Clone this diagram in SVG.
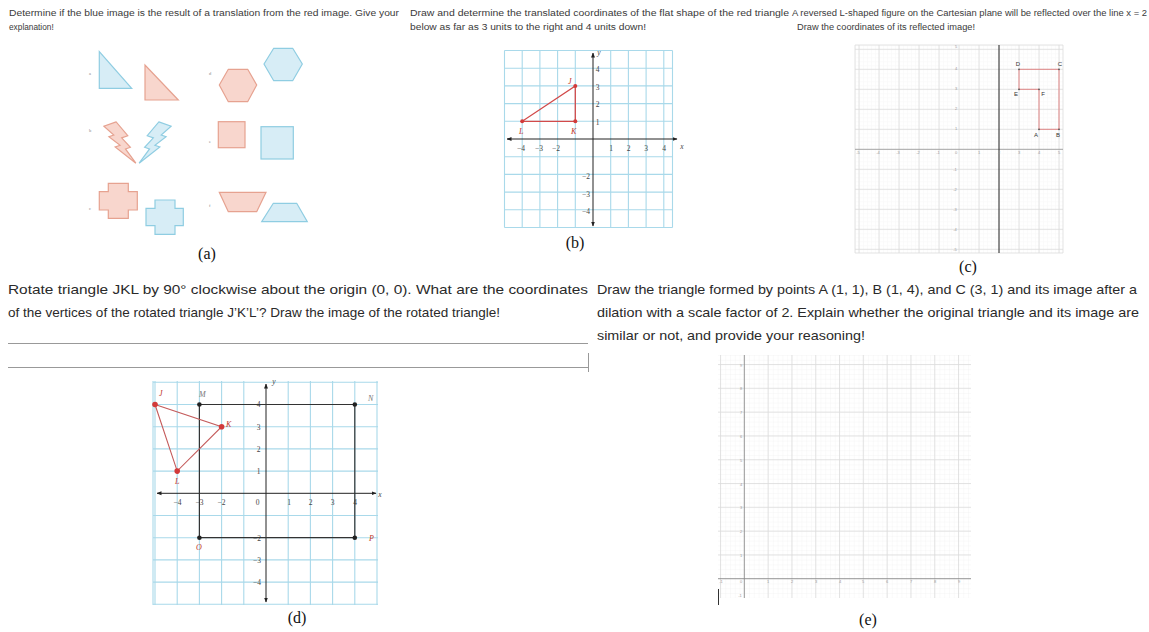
<svg xmlns="http://www.w3.org/2000/svg" width="1149" height="632" viewBox="0 0 1149 632">
<style>
.q{font-family:"Liberation Sans",Arial,sans-serif;font-size:8.3px;fill:#3a3a3a}
.qm{font-family:"Liberation Sans",Arial,sans-serif;font-size:12.4px;fill:#2a2a2a}
.cap{font-family:"Liberation Serif","Times New Roman",serif;font-size:16px;fill:#111;text-anchor:middle}
.rd{fill:#f8d6cd;stroke:#e6a290;stroke-width:1.2}
.bl{fill:#d7edf6;stroke:#8fcde2;stroke-width:1.2}
.sl{font-family:"Liberation Serif",serif;font-size:4.5px;fill:#888}
.bg{stroke:#a9d9ea;stroke-width:1.1;fill:none}
.ax{stroke:#222;stroke-width:1;fill:none}
.tk{font-family:"Liberation Serif",serif;font-size:7.5px;fill:#444;text-anchor:middle}
.pl{font-family:"Liberation Serif",serif;font-size:8px;font-style:italic;fill:#c0392b}
.gm{stroke:#dcdcdc;stroke-width:0.8;fill:none}
.tiny{font-family:"Liberation Sans",sans-serif;font-size:4px;fill:#9a9a9a;text-anchor:middle}
.lbl{font-family:"Liberation Sans",sans-serif;font-size:6px;fill:#333;text-anchor:middle}
</style>
<defs>
<marker id="ar" viewBox="0 0 10 10" refX="9" refY="5" markerWidth="5" markerHeight="5" orient="auto-start-reverse"><path d="M0 1L10 5L0 9z" fill="#222"/></marker>
<pattern id="mc" width="4" height="4" patternUnits="userSpaceOnUse" x="959" y="149.3"><path d="M0 0H4M0 0V4" stroke="#f1f1f1" stroke-width="0.6" fill="none"/></pattern>
<pattern id="me" width="4.76" height="4.76" patternUnits="userSpaceOnUse" x="744.3" y="578.7"><path d="M0 0H4.76M0 0V4.76" stroke="#efefef" stroke-width="0.6" fill="none"/></pattern>
<polygon id="bolt" points="10,0 -10,0 0,18 -8,18 4,36 -4,36 18,70 10,44 18,44 10,26 20,26"/>
</defs>
<rect width="1149" height="632" fill="#fff"/>

<g id="questions">
<text class="q" x="9" y="16" textLength="390" lengthAdjust="spacingAndGlyphs">Determine if the blue image is the result of a translation from the red image. Give your</text>
<text class="q" x="9" y="30">explanation!</text>
<text class="q" x="410" y="16" textLength="379" lengthAdjust="spacingAndGlyphs">Draw and determine the translated coordinates of the flat shape of the red triangle</text>
<text class="q" x="410" y="30" textLength="236" lengthAdjust="spacingAndGlyphs">below as far as 3 units to the right and 4 units down!</text>
<text class="q" x="792" y="16" textLength="355" lengthAdjust="spacingAndGlyphs">A reversed L-shaped figure on the Cartesian plane will be reflected over the line x = 2</text>
<text class="q" x="797" y="30" textLength="178" lengthAdjust="spacingAndGlyphs">Draw the coordinates of its reflected image!</text>
<text class="qm" x="8" y="294" textLength="580" lengthAdjust="spacingAndGlyphs">Rotate triangle JKL by 90° clockwise about the origin (0, 0). What are the coordinates</text>
<text class="qm" x="8" y="317" textLength="492" lengthAdjust="spacingAndGlyphs">of the vertices of the rotated triangle J’K’L’? Draw the image of the rotated triangle!</text>
<text class="qm" x="597" y="294" textLength="540" lengthAdjust="spacingAndGlyphs">Draw the triangle formed by points A (1, 1), B (1, 4), and C (3, 1) and its image after a</text>
<text class="qm" x="597" y="317" textLength="542" lengthAdjust="spacingAndGlyphs">dilation with a scale factor of 2. Explain whether the original triangle and its image are</text>
<text class="qm" x="597" y="340" textLength="268" lengthAdjust="spacingAndGlyphs">similar or not, and provide your reasoning!</text>
<path d="M8 343.5H588M8 367.5H588M588.5 353V372" stroke="#999" stroke-width="1" fill="none"/>
</g>

<g id="panel-a">
<text class="sl" x="89" y="75">a</text>
<polygon class="bl" points="99.3,51.7 99.3,88.3 131.7,88.3"/>
<polygon class="rd" points="145,65 145,100 178.3,100"/>
<text class="sl" x="209" y="75">d</text>
<polygon class="rd" points="219.3,85 228.3,69.3 247.7,69.3 256.7,85 247.7,101.7 228.3,101.7"/>
<polygon class="bl" points="264,64 273.7,48.3 292.7,48.3 302.3,64 292.7,80.7 273.7,80.7"/>
<text class="sl" x="89" y="132">b</text>
<use href="#bolt" class="rd" style="stroke-width:1.8" transform="translate(110,124) rotate(-19) scale(0.65)"/>
<use href="#bolt" class="bl" style="stroke-width:1.8" transform="translate(165,124) scale(-1,1) rotate(-19) scale(0.65)"/>
<text class="sl" x="209" y="143">e</text>
<rect class="rd" x="218.3" y="121.7" width="26.7" height="26"/>
<rect class="bl" x="261" y="126.7" width="32.3" height="32.3"/>
<text class="sl" x="89" y="210">c</text>
<polygon class="rd" points="108.3,183.3 128.3,183.3 128.3,191.7 137.3,191.7 137.3,210 128.3,210 128.3,218.3 108.3,218.3 108.3,210 99.3,210 99.3,191.7 108.3,191.7"/>
<polygon class="bl" points="155,200 175,200 175,208.3 183.3,208.3 183.3,225.7 175,225.7 175,234.3 155,234.3 155,225.7 146,225.7 146,208.3 155,208.3"/>
<text class="sl" x="209" y="207">f</text>
<polygon class="rd" points="219.3,192.3 266,192.3 256.7,211.7 228.3,211.7"/>
<polygon class="bl" points="261.7,221.7 307.3,221.7 296.7,203.3 273.3,203.3"/>
<text class="cap" x="207" y="259">(a)</text>
</g>

<g id="panel-b">
<path class="bg" d="M504.5 50.5V227.5M522.2 50.5V227.5M539.9 50.5V227.5M557.6 50.5V227.5M575.3 50.5V227.5M610.7 50.5V227.5M628.4 50.5V227.5M646.1 50.5V227.5M663.8 50.5V227.5M672.5 50.5V227.5M504.5 50.5H672.5M504.5 68.2H672.5M504.5 85.9H672.5M504.5 103.6H672.5M504.5 121.3H672.5M504.5 156.7H672.5M504.5 174.4H672.5M504.5 192.1H672.5M504.5 209.8H672.5M504.5 227.5H672.5"/>
<path class="ax" d="M507 139H677" marker-start="url(#ar)" marker-end="url(#ar)"/>
<path class="ax" d="M593 53V226" marker-start="url(#ar)" marker-end="url(#ar)"/>
<text class="tk" x="599" y="55" font-style="italic">y</text>
<text class="tk" x="682" y="149" font-style="italic">x</text>
<g class="tk">
<text x="597.5" y="72">4</text><text x="597.5" y="89.5">3</text><text x="597.5" y="107">2</text><text x="597.5" y="125">1</text>
<text x="586" y="179">−2</text><text x="586" y="196.5">−3</text><text x="586" y="214">−4</text>
<text x="521" y="151">−4</text><text x="539" y="151">−3</text><text x="556" y="151">−2</text>
<text x="611" y="151">1</text><text x="628.5" y="151">2</text><text x="646" y="151">3</text><text x="664" y="151">4</text>
</g>
<polygon points="575.3,85.9 575.3,121.3 522.2,121.3" fill="none" stroke="#d24a4a" stroke-width="1.3"/>
<circle cx="575.3" cy="85.9" r="2" fill="#d23a3a"/><circle cx="575.3" cy="121.3" r="2" fill="#d23a3a"/><circle cx="522.2" cy="121.3" r="2" fill="#d23a3a"/>
<text class="pl" x="568" y="84">J</text><text class="pl" x="571" y="134">K</text><text class="pl" x="519" y="134">L</text>
<text class="cap" x="575" y="248">(b)</text>
</g>

<g id="panel-c">
<rect x="855" y="45" width="208" height="208" fill="url(#mc)"/>
<path class="gm" d="M855 45V253M859 45V253M879 45V253M899 45V253M919 45V253M939 45V253M959 45V253M979 45V253M1019 45V253M1039 45V253M1059 45V253M1063 45V253M855 45H1063M855 49.3H1063M855 69.3H1063M855 89.3H1063M855 109.3H1063M855 129.3H1063M855 169.3H1063M855 189.3H1063M855 209.3H1063M855 229.3H1063M855 249.3H1063M855 253H1063"/>
<path d="M855 149.3H1063" stroke="#9a9a9a" stroke-width="0.9"/>
<path d="M999 45V253" stroke="#333" stroke-width="1.1"/>
<g class="tiny">
<text x="858" y="154">-5</text><text x="878" y="154">-4</text><text x="898" y="154">-3</text><text x="918" y="154">-2</text><text x="938" y="154">-1</text><text x="956" y="154">0</text><text x="979" y="154">1</text><text x="999" y="154">2</text><text x="1019" y="154">3</text><text x="1039" y="154">4</text><text x="1059" y="154">5</text>
<text x="956" y="48">5</text><text x="956" y="70">4</text><text x="956" y="90">3</text><text x="956" y="110">2</text><text x="956" y="130">1</text><text x="955" y="171">-1</text><text x="955" y="191">-2</text><text x="955" y="211">-3</text><text x="955" y="231">-4</text><text x="955" y="251">-5</text>
</g>
<polygon points="1019,69.3 1059,69.3 1059,129.3 1039,129.3 1039,89.3 1019,89.3" fill="none" stroke="#e07a7a" stroke-width="0.9"/>
<g fill="#555"><circle cx="1019" cy="69.3" r="0.9"/><circle cx="1059" cy="69.3" r="0.9"/><circle cx="1019" cy="89.3" r="0.9"/><circle cx="1039" cy="89.3" r="0.9"/><circle cx="1039" cy="129.3" r="0.9"/><circle cx="1059" cy="129.3" r="0.9"/></g>
<g class="lbl"><text x="1018" y="66">D</text><text x="1060" y="66">C</text><text x="1016" y="95.5">E</text><text x="1043" y="95.5">F</text><text x="1036" y="137">A</text><text x="1058" y="137">B</text></g>
<text class="cap" x="968" y="272">(c)</text>
</g>

<g id="panel-d">
<path class="bg" d="M153 381V605M155 381V605M177.2 381V605M199.4 381V605M221.6 381V605M243.8 381V605M288.2 381V605M310.4 381V605M332.6 381V605M354.8 381V605M377 381V605M153 382.3H378M153 404.5H378M153 426.7H378M153 448.9H378M153 471.1H378M153 515.5H378M153 537.7H378M153 559.9H378M153 582.1H378M153 604.3H378"/>
<path class="ax" d="M157 493.3H376" marker-start="url(#ar)" marker-end="url(#ar)"/>
<path class="ax" d="M266 384V602" marker-start="url(#ar)" marker-end="url(#ar)"/>
<text class="tk" x="274" y="384" font-style="italic">y</text>
<text class="tk" x="380" y="497" font-style="italic">x</text>
<g class="tk">
<text x="258.5" y="407">4</text><text x="258.5" y="429.5">3</text><text x="258.5" y="451.5">2</text><text x="258.5" y="474">1</text>
<text x="257" y="540.5">−2</text><text x="257" y="562.5">−3</text><text x="257" y="585">−4</text>
<text x="177.5" y="505">−4</text><text x="199.5" y="505">−3</text><text x="221.5" y="505">−2</text><text x="257.5" y="505">0</text>
<text x="289" y="505">1</text><text x="310.5" y="505">2</text><text x="332.5" y="505">3</text><text x="355" y="505">4</text>
</g>
<polygon points="199.4,404.5 354.8,404.5 354.8,537.7 199.4,537.7" fill="none" stroke="#333" stroke-width="1.2"/>
<g fill="#222"><circle cx="199.4" cy="404.5" r="2.3"/><circle cx="354.8" cy="404.5" r="2.3"/><circle cx="354.8" cy="537.7" r="2.3"/><circle cx="199.4" cy="537.7" r="2.3"/></g>
<polygon points="155,404.5 221.6,426.7 177.2,471.1" fill="none" stroke="#c45a5a" stroke-width="1.1"/>
<g fill="#d23a3a"><circle cx="155" cy="404.5" r="2.8"/><circle cx="221.6" cy="426.7" r="2.8"/><circle cx="177.2" cy="471.1" r="2.8"/></g>
<text class="pl" x="159" y="396">J</text><text class="pl" x="226" y="427">K</text><text class="pl" x="175" y="484">L</text>
<text class="pl" x="199" y="397" style="fill:#777">M</text><text class="pl" x="368" y="401" style="fill:#777">N</text>
<text class="pl" x="196" y="550">O</text><text class="pl" x="369" y="541">P</text>
<text class="cap" x="297" y="623">(d)</text>
</g>

<g id="panel-e">
<rect x="718" y="355" width="253" height="243" fill="url(#me)"/>
<path class="gm" d="M720.5 355V598M768.1 355V598M791.9 355V598M815.7 355V598M839.5 355V598M863.3 355V598M887.1 355V598M910.9 355V598M934.7 355V598M958.5 355V598M718 554.9H971M718 531.1H971M718 507.3H971M718 483.5H971M718 459.7H971M718 435.9H971M718 412.1H971M718 388.3H971M718 364.5H971"/>
<path d="M718 578.7H971M744.3 355V598" stroke="#8a8a8a" stroke-width="0.9" fill="none"/>
<g class="tiny">
<text x="741" y="557">1</text><text x="741" y="533">2</text><text x="741" y="509">3</text><text x="741" y="486">4</text><text x="741" y="462">5</text><text x="741" y="438">6</text><text x="741" y="414">7</text><text x="741" y="390">8</text><text x="741" y="367">9</text><text x="740" y="597">-1</text>
<text x="721" y="583">-1</text><text x="741" y="583">0</text><text x="768" y="583">1</text><text x="792" y="583">2</text><text x="816" y="583">3</text><text x="840" y="583">4</text><text x="863" y="583">5</text><text x="887" y="583">6</text><text x="911" y="583">7</text><text x="935" y="583">8</text><text x="959" y="583">9</text>
</g>
<path d="M718.5 589V605" stroke="#333" stroke-width="1"/>
<text class="cap" x="868" y="625">(e)</text>
</g>
</svg>
